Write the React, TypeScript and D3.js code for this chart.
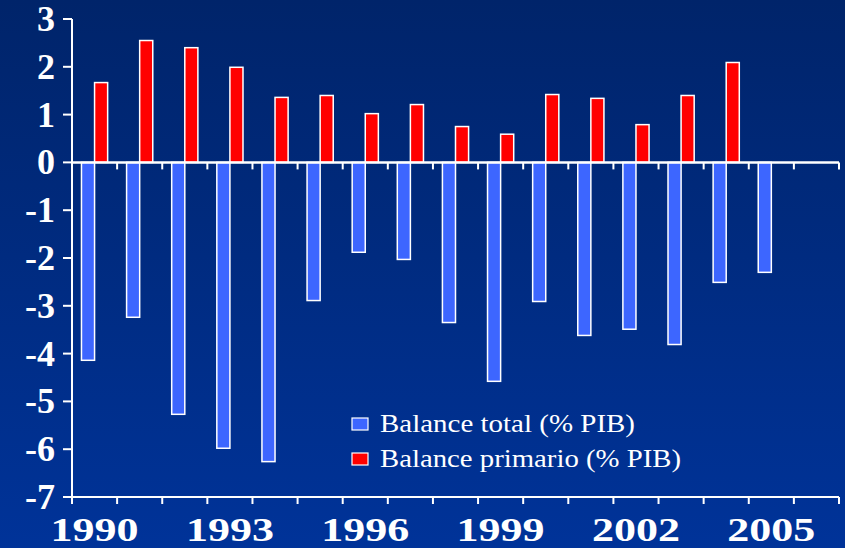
import React from "react";
import * as d3 from "d3";

const years = ["1990","1991","1992","1993","1994","1995","1996","1997","1998","1999","2000","2001","2002","2003","2004","2005","2006"];
const balanceTotal = [-4.14,-3.24,-5.27,-5.98,-6.26,-2.89,-1.88,-2.03,-3.35,-4.58,-2.91,-3.62,-3.49,-3.81,-2.51,-2.30,null];
const balancePrimario = [1.67,2.55,2.40,1.99,1.36,1.40,1.02,1.21,0.75,0.59,1.42,1.34,0.79,1.40,2.09,null,null];
const yTicks = [3,2,1,0,-1,-2,-3,-4,-5,-6,-7];
const xLabels = ["1990","1993","1996","1999","2002","2005"];
const seriesNames = ["Balance total (% PIB)", "Balance primario (% PIB)"];
const colors = ["#3d66ff", "#ff0000"];

export default function App() {
  const W = 845, H = 548;
  const left = 72, right = 839, top = 19, bottom = 497;
  const y = d3.scaleLinear().domain([-7, 3]).range([bottom, top]);
  const x = d3.scaleBand().domain(years).range([left, right]).paddingInner(0).paddingOuter(0);
  const bw = x.bandwidth();
  const barW = bw * 0.29;
  const y0 = y(0);
  const serif = "Liberation Serif, Times New Roman, serif";
  const legendLens = [255, 301];
  return (
    <svg width={W} height={H} style={{ position: "absolute", left: 0, top: 0 }}>
      <defs>
        <linearGradient id="bg" x1="0" y1="0" x2="0" y2="1">
          <stop offset="0" stopColor="#00246a" />
          <stop offset="1" stopColor="#003399" />
        </linearGradient>
      </defs>
      <rect x={0} y={0} width={W} height={H} fill="url(#bg)" />
      {years.map((yr, i) => {
        const cx = (x(yr) as number) + bw / 2;
        const t = balanceTotal[i];
        const p = balancePrimario[i];
        return (
          <g key={yr}>
            {t != null && (
              <rect x={cx - barW} y={y0} width={barW} height={y(t) - y0} fill={colors[0]} stroke="#ffffff" strokeWidth={1.5} />
            )}
            {p != null && (
              <rect x={cx} y={y(p)} width={barW} height={y0 - y(p)} fill={colors[1]} stroke="#ffffff" strokeWidth={1.5} />
            )}
          </g>
        );
      })}
      <line x1={left} x2={left} y1={top} y2={bottom} stroke="#fff" strokeWidth={2} />
      {yTicks.map((t) => (
        <g key={t}>
          <line x1={left - 9} x2={left} y1={y(t)} y2={y(t)} stroke="#fff" strokeWidth={2} />
          <text x={55} y={y(t) + 12} textAnchor="end" fill="#fff" fontFamily={serif} fontWeight="bold" fontSize={36}>
            {t < 0 ? "-" + Math.abs(t) : String(t)}
          </text>
        </g>
      ))}
      <line x1={left} x2={right} y1={y0} y2={y0} stroke="#fff" strokeWidth={2.5} />
      <line x1={left} x2={right} y1={bottom} y2={bottom} stroke="#fff" strokeWidth={2} />
      {years.map((yr) => (
        <g key={"t" + yr}>
          <line x1={(x(yr) as number) + bw} x2={(x(yr) as number) + bw} y1={y0} y2={y0 + 7} stroke="#fff" strokeWidth={2} />
          <line x1={x(yr) as number} x2={x(yr) as number} y1={bottom} y2={bottom + 7} stroke="#fff" strokeWidth={2} />
        </g>
      ))}
      <line x1={right} x2={right} y1={bottom} y2={bottom + 7} stroke="#fff" strokeWidth={2} />
      {xLabels.map((lbl) => (
        <text key={lbl} x={(x(lbl) as number) + bw / 2} y={541} textAnchor="middle" fill="#fff" fontFamily={serif} fontWeight="bold" fontSize={33} textLength={88} lengthAdjust="spacingAndGlyphs">
          {lbl}
        </text>
      ))}
      {seriesNames.map((n, i) => (
        <g key={n}>
          <rect x={352} y={418 + i * 35} width={16} height={12} fill={colors[i]} stroke="#fff" strokeWidth={1.2} />
          <text x={380} y={432 + i * 35} fill="#fff" fontFamily={serif} fontSize={25} textLength={legendLens[i]} lengthAdjust="spacingAndGlyphs">{n}</text>
        </g>
      ))}
    </svg>
  );
}
